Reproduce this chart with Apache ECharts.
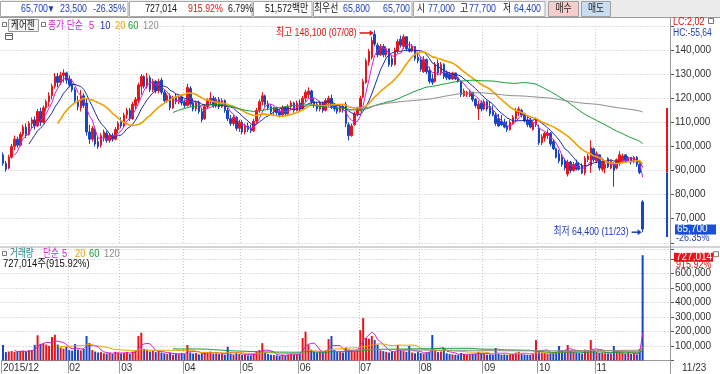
<!DOCTYPE html>
<html><head><meta charset="utf-8">
<script src="https://cdn.jsdelivr.net/npm/echarts@6/dist/echarts.min.js"></script>
<style>html,body{margin:0;padding:0;background:#fff;overflow:hidden}#c{width:720px;height:374px}</style>
</head><body><div id="c"></div><script>
// ---------------- data ----------------
const dates = [
'2015/12/28','2015/12/29','2015/12/30',
'2016/01/04','2016/01/05','2016/01/06','2016/01/07','2016/01/08','2016/01/11','2016/01/12','2016/01/13','2016/01/14','2016/01/15','2016/01/18','2016/01/19','2016/01/20','2016/01/21','2016/01/22','2016/01/25','2016/01/26','2016/01/27','2016/01/28','2016/01/29',
'2016/02/01','2016/02/02','2016/02/03','2016/02/04','2016/02/05','2016/02/11','2016/02/12','2016/02/15','2016/02/16','2016/02/17','2016/02/18','2016/02/19','2016/02/22','2016/02/23','2016/02/24','2016/02/25','2016/02/26','2016/02/29',
'2016/03/02','2016/03/03','2016/03/04','2016/03/07','2016/03/08','2016/03/09','2016/03/10','2016/03/11','2016/03/14','2016/03/15','2016/03/16','2016/03/17','2016/03/18','2016/03/21','2016/03/22','2016/03/23','2016/03/24','2016/03/25','2016/03/28','2016/03/29','2016/03/30','2016/03/31',
'2016/04/01','2016/04/04','2016/04/05','2016/04/06','2016/04/07','2016/04/08','2016/04/11','2016/04/12','2016/04/14','2016/04/15','2016/04/18','2016/04/19','2016/04/20','2016/04/21','2016/04/22','2016/04/25','2016/04/26','2016/04/27','2016/04/28','2016/04/29',
'2016/05/02','2016/05/03','2016/05/04','2016/05/09','2016/05/10','2016/05/11','2016/05/12','2016/05/13','2016/05/16','2016/05/17','2016/05/18','2016/05/19','2016/05/20','2016/05/23','2016/05/24','2016/05/25','2016/05/26','2016/05/27','2016/05/30','2016/05/31',
'2016/06/01','2016/06/02','2016/06/03','2016/06/07','2016/06/08','2016/06/09','2016/06/10','2016/06/13','2016/06/14','2016/06/15','2016/06/16','2016/06/17','2016/06/20','2016/06/21','2016/06/22','2016/06/23','2016/06/24','2016/06/27','2016/06/28','2016/06/29','2016/06/30',
'2016/07/01','2016/07/04','2016/07/05','2016/07/06','2016/07/07','2016/07/08','2016/07/11','2016/07/12','2016/07/13','2016/07/14','2016/07/15','2016/07/18','2016/07/19','2016/07/20','2016/07/21','2016/07/22','2016/07/25','2016/07/26','2016/07/27','2016/07/28','2016/07/29',
'2016/08/01','2016/08/02','2016/08/03','2016/08/04','2016/08/05','2016/08/08','2016/08/09','2016/08/10','2016/08/11','2016/08/12','2016/08/16','2016/08/17','2016/08/18','2016/08/19','2016/08/22','2016/08/23','2016/08/24','2016/08/25','2016/08/26','2016/08/29','2016/08/30','2016/08/31',
'2016/09/01','2016/09/02','2016/09/05','2016/09/06','2016/09/07','2016/09/08','2016/09/09','2016/09/12','2016/09/13','2016/09/19','2016/09/20','2016/09/21','2016/09/22','2016/09/23','2016/09/26','2016/09/27','2016/09/28','2016/09/29','2016/09/30',
'2016/10/04','2016/10/05','2016/10/06','2016/10/07','2016/10/10','2016/10/11','2016/10/12','2016/10/13','2016/10/14','2016/10/17','2016/10/18','2016/10/19','2016/10/20','2016/10/21','2016/10/24','2016/10/25','2016/10/26','2016/10/27','2016/10/28','2016/10/31',
'2016/11/01','2016/11/02','2016/11/03','2016/11/04','2016/11/07','2016/11/08','2016/11/09','2016/11/10','2016/11/11','2016/11/14','2016/11/15','2016/11/16','2016/11/17','2016/11/18','2016/11/21','2016/11/22','2016/11/23'
];
// [open, high, low, close]
const ohlc = [
[96500,97500,92000,93000],[93000,94000,89500,90500],[91000,96500,90500,95500],
// Jan
[95500,101000,95000,100000],[100000,104500,98500,103000],[103000,104000,99500,100500],[100500,106000,100000,105000],[105000,109000,104000,108000],
[108000,109500,103500,105000],[105000,110500,104500,109500],[109500,112000,107500,111000],[111000,112500,107000,108500],[108500,115500,108000,114500],
[114500,116000,108500,110000],[110000,117000,109500,116000],[116000,119500,114500,118500],[118500,122500,116500,121000],[121000,126000,119500,125000],
[125000,130500,124000,129000],[129000,130500,124500,126500],[126500,131000,125500,129500],[129500,132000,126500,130500],[130500,131000,126000,127500],
// Feb
[128000,129500,124500,125500],[126000,128000,122500,123500],[123500,124500,118000,119000],[119000,121000,115000,116500],[116000,123500,114500,121000],
[121000,122000,116000,117000],[118000,120000,104500,106000],[106000,109000,101000,103000],[103000,108500,102000,107500],[107000,108000,100000,101000],
[102000,104000,99000,100000],[100500,105500,99500,104500],[103500,107000,102000,106000],[105500,106500,101500,102500],[102500,105500,101500,104500],
[104500,105500,102000,103000],[103000,108000,102500,107000],[107000,110500,105500,109500],
// Mar
[110000,112000,107500,108500],[108500,114000,108000,113000],[113000,116000,111500,115000],[115000,116000,110500,111500],[111500,118500,111000,117500],
[117000,120500,115500,119500],[119000,126500,118000,125500],[125000,130000,121500,129000],[129000,129500,124000,125000],[125000,130500,124000,128500],
[128500,129500,122500,123500],[123500,128000,122500,127000],[127000,127500,122000,123000],[123000,128000,122000,127000],[127500,128500,121500,122500],
[122500,123500,118000,119000],[119000,122000,118000,121000],[121000,122000,115000,116000],[116000,121000,115500,120000],[120500,122000,117500,118500],
[118500,121500,117500,120500],[120500,121500,117000,118000],
// Apr
[118500,119500,116000,117000],[117000,126000,116500,124500],[124000,125000,116500,117500],[118000,120000,114500,115500],[115500,119000,114500,118000],
[118000,119000,113500,114500],[114500,116000,110000,111000],[111500,117500,111000,116500],[116500,120000,115500,119000],[119000,122500,117500,120000],
[120000,121000,116000,117000],[117000,120500,116000,119500],[119500,120500,115500,116500],[116500,120000,116000,119000],[119000,119500,114000,115000],
[115000,116000,110500,111500],[111500,113000,108500,109500],[109500,113000,108500,112000],[112000,112500,106500,107500],[107500,111000,106000,110000],
// May
[110000,111000,105000,106000],[106000,109500,105000,108500],[108500,110000,106000,107000],[107500,109000,105500,106500],[106500,111500,106000,110500],
[110500,116000,109500,115000],[115000,119500,114000,118500],[118500,122500,117000,121000],[121000,121500,116500,117500],[117500,119000,115000,116000],
[116500,117500,113500,114500],[114500,116500,113000,116000],[116000,116500,113000,114000],[114500,115500,112000,113000],[113000,117000,112500,116000],
[116000,116500,112500,113500],[113500,117500,113000,116500],[116500,119000,115000,118000],[118000,118500,114000,115000],[115000,119000,114500,118000],
// Jun
[118000,119500,114500,115500],[115500,121000,115000,120000],[120000,123500,118500,122500],[121500,124500,120000,123000],[123000,123500,117500,118500],
[118500,120000,116000,117000],[117500,118500,114500,115500],[115500,119000,114500,118000],[118000,118500,114000,115000],[115000,120000,114500,119000],
[118000,121000,116500,120000],[120000,121500,115500,116500],[117000,118000,114500,115500],[116000,117000,113500,114500],[114500,117500,114000,116500],
[116500,117500,114000,115000],[117500,118500,108000,109500],[109000,110000,102500,104500],[104500,109500,104000,108500],[109000,114500,108500,113500],
[113500,116500,112500,116000],
// Jul
[115000,121000,114500,120000],[120500,128000,120000,127000],[126500,136500,126000,135500],[135000,140500,133500,139500],[137000,145500,136000,144000],
[146500,148100,141500,142500],[142000,143000,137000,138000],[138000,142500,137500,141500],[141500,142500,137000,138000],[138000,141500,137000,140500],
[140500,140500,133000,134000],[136500,138000,133000,134000],[134000,141000,133500,140000],[139500,144500,138500,143500],[144500,146000,141000,142000],
[141500,146500,140500,145500],[145500,145500,139500,140500],[140500,143500,139000,139500],[139500,142500,139000,141500],[141500,141500,135500,136500],
[137000,138500,134500,135500],
// Aug
[136000,137000,131000,132000],[131000,137500,130500,136000],[136000,136500,130000,131000],[131500,133000,126000,127000],[128000,130000,125500,126500],
[127000,135000,126500,134000],[134500,136000,129500,130500],[130500,135000,129500,134000],[134000,134500,128000,129000],[130500,131500,127500,128500],
[130000,131000,127500,128000],[128000,131000,127500,130500],[130500,130500,127500,128000],[128500,129000,126500,127000],[127000,127000,120500,121500],
[121000,124000,120500,123000],[121500,123000,120500,122500],[121000,123500,120500,122500],[122500,122500,118500,119500],[119500,120000,116000,117000],
[115500,119000,111000,117500],[118000,119000,114500,115500],
// Sep
[115500,119500,115000,118500],[118500,119000,114500,115500],[116500,118500,112500,113500],[114500,117000,112500,113000],[113000,114000,108500,109500],
[111500,113500,108000,108500],[110500,113000,108500,109000],[110000,111500,107500,108000],[108500,110500,106000,107000],[107000,111000,106500,110000],
[109500,113000,109000,112000],[111500,116000,110500,114500],[114000,116500,112500,115500],[115000,115500,112000,113000],[113500,114000,110000,110500],
[111000,112500,108000,109000],[111000,112000,107500,108000],[107000,110500,106500,109500],[109000,112000,108000,111000],
// Oct
[107500,109000,100500,101500],[101500,105000,100500,104000],[103500,106000,102000,105500],[104500,107000,103000,105500],[105500,106000,100000,101000],
[102000,103000,98500,99000],[99000,99500,95000,95500],[97000,98500,93000,94000],[95500,96500,91500,92500],[94000,95000,90000,91000],
[88500,94500,87500,93500],[93500,94000,89000,90000],[90000,93500,89500,92500],[93000,94500,90000,90500],[92000,93500,90000,90500],
[92000,93000,88500,89000],[89000,96000,88000,95000],[94500,97000,93500,96000],[92000,102500,89000,99500],[99000,99500,93500,94500],
// Nov
[94000,98000,93000,97000],[96500,96500,90000,91000],[90500,94500,89500,93500],[91000,93500,88800,92500],[95000,95500,91000,91500],
[91000,94500,90500,94000],[93000,93500,83300,90000],[91000,95000,90500,94500],[93000,98000,92000,96500],[94000,97000,93000,96000],
[96500,96500,93500,94000],[94000,96000,93500,95500],[95500,95500,92500,93500],[93500,96000,93000,95500],[95500,96000,91500,92500],
[92500,93000,88500,89200],[77000,77700,64400,65700]
];
const volumes = [
107000,58000,62000,
65000,60000,62000,66000,68000,60000,70000,72000,108000,174000,115000,118000,110000,102000,162000,178000,110000,90000,82000,95000,
72000,68000,114000,76000,70000,80000,169000,120000,72000,62000,55000,58000,50000,48000,52000,45000,60000,55000,
48000,52000,58000,45000,62000,70000,169000,192000,80000,75000,62000,68000,58000,65000,55000,50000,45000,52000,40000,48000,44000,50000,
46000,107000,55000,48000,52000,42000,50000,60000,58000,62000,48000,50000,44000,46000,40000,95000,48000,42000,50000,45000,
38000,42000,35000,36000,48000,62000,72000,120000,55000,45000,40000,38000,35000,32000,40000,34000,42000,48000,38000,45000,
50000,155000,199000,110000,75000,62000,55000,60000,58000,70000,148000,169000,72000,60000,58000,55000,90000,75000,68000,62000,70000,
210000,293000,155000,150000,169000,141000,110000,70000,65000,60000,55000,62000,58000,107000,70000,65000,60000,100000,55000,50000,58000,
52000,48000,55000,60000,176000,70000,58000,62000,84000,50000,45000,42000,40000,38000,52000,45000,40000,42000,44000,48000,60000,50000,
45000,40000,42000,38000,86000,45000,40000,42000,38000,40000,45000,55000,60000,48000,42000,40000,38000,45000,141000,
65000,55000,52000,48000,50000,55000,60000,100000,70000,62000,107000,68000,60000,55000,52000,48000,75000,60000,141000,65000,
58000,52000,55000,50000,48000,45000,100000,62000,58000,55000,50000,52000,45000,48000,42000,79375,727014
];
const priceMaPeriods = [5, 10, 20, 60, 120];
const volMaPeriods = [5, 20, 60, 120];
const stockName = '케어젠';
const bestQuotes = ['65,800', '65,700'];
const turnover = '51,572백만';
const turnRate = '6.79%';
const lcText = 'LC:2,02';
const hcText = 'HC:-55,64';

// ---------------- helpers ----------------
const F = '"Liberation Sans","Noto Sans CJK KR",sans-serif';
const fmt = v => String(Math.round(v)).replace(/\B(?=(\d{3})+(?!\d))/g, ',');
const UP = '#e8141a', DN = '#1646c8';
const MA_COL = {5:'#d21ed2', 10:'#1c2ca8', 20:'#f0a000', 60:'#179a35', 120:'#8c8c8c'};
const N = dates.length;
const PAD = 9;
const cats = dates.concat(Array(PAD).fill(''));
const closes = ohlc.map(r => r[3]);
const highs = ohlc.map(r => r[1]);
const lows = ohlc.map(r => r[2]);
function ma(arr, n) {
  return arr.map((v, i) => {
    if (i < n - 1) return null;
    let s = 0; for (let k = i - n + 1; k <= i; k++) s += arr[k];
    return Math.round(s / n);
  });
}
const monthStarts = new Set();
let lastShown = -99;
dates.forEach((d, i) => {
  if (i === 0 || d.slice(0, 7) !== dates[i - 1].slice(0, 7)) {
    if (i - lastShown >= 10) { monthStarts.add(i); lastShown = i; }
  }
});
const labelFmt = (v, i) => (i === 0 ? v.slice(0, 7) : v.slice(5, 7));
const isMonth = i => monthStarts.has(i);
const isMonthLine = i => monthStarts.has(i) && i > 0;
const gridLine = {color:'#c4c4c4', type:[1, 2], width:1};

const chart = echarts.init(document.getElementById('c'), null, {renderer:'canvas'});
const series = [{
  type:'candlestick', xAxisIndex:0, yAxisIndex:0, barWidth:2,
  data: ohlc.map(r => [r[0], r[3], r[2], r[1]]),
  itemStyle:{color:UP, color0:DN, borderColor:UP, borderColor0:DN, borderWidth:1},
  z:2
}];
priceMaPeriods.forEach(p => series.push({
  type:'line', xAxisIndex:0, yAxisIndex:0, data: ma(closes, p), showSymbol:false, symbol:'none',
  lineStyle:{color:MA_COL[p], width: p === 20 ? 1.6 : 1}, z:3, silent:true
}));
series.push({
  type:'bar', xAxisIndex:1, yAxisIndex:1, barWidth:2,
  data: volumes.map((v, i) => ({value:v, itemStyle:{color: ohlc[i][3] >= ohlc[i][0] ? UP : DN}})),
  z:2
});
volMaPeriods.forEach(p => series.push({
  type:'line', xAxisIndex:1, yAxisIndex:1, data: ma(volumes, p), showSymbol:false, symbol:'none',
  lineStyle:{color:MA_COL[p], width:1}, z:3, silent:true
}));

const option = {
  animation:false,
  backgroundColor:'#ffffff',
  grid:[
    {left:1.56, right:50, top:25.9, height:216.9},
    {left:1.56, right:50, top:249, height:111.5}
  ],
  xAxis:[
    {type:'category', gridIndex:0, data:cats, boundaryGap:true,
     axisLine:{show:false}, axisTick:{show:false}, axisLabel:{show:false},
     splitLine:{show:true, interval:isMonthLine, lineStyle:gridLine}},
    {type:'category', gridIndex:1, data:cats, boundaryGap:true,
     axisLine:{show:true, lineStyle:{color:'#9a9a9a'}},
     axisTick:{show:true, interval:isMonth, length:13, lineStyle:{color:'#9a9a9a'}},
     axisLabel:{show:true, interval:isMonth, formatter:labelFmt, align:'left', margin:3,
                fontSize:10, color:'#333', fontFamily:F},
     splitLine:{show:true, interval:isMonthLine, lineStyle:gridLine}}
  ],
  yAxis:[
    {type:'value', gridIndex:0, position:'right', min:60000, max:150000, interval:10000,
     axisLine:{show:false}, axisTick:{show:true, length:4, lineStyle:{color:'#555'}},
     axisLabel:{margin:5, fontSize:10, color:'#333', fontFamily:F,
                formatter: v => (v < 70000 || v > 140000) ? '' : fmt(v)},
     splitLine:{show:true, lineStyle:gridLine}},
    {type:'value', gridIndex:1, position:'right', min:0, max:770000, interval:100000,
     axisLine:{show:false}, axisTick:{show:true, length:4, lineStyle:{color:'#555'}},
     axisLabel:{margin:5, fontSize:10, color:'#333', fontFamily:F,
                formatter: v => (v < 100000 || v > 600000) ? '' : fmt(v)},
     splitLine:{show:true, lineStyle:gridLine}}
  ],
  series
};
chart.setOption(option);

// ---------------- overlay texts / annotations ----------------
function T(x, y, text, color, size, align, sx) {
  return {type:'text', x, y, z:100, silent:true, scaleX: sx || 1,
    style:{text, fill:color, font:(size || 11) + 'px ' + F, align:align || 'left', verticalAlign:'middle'}};
}
function R(x, y, w, h, fill, stroke) {
  return {type:'rect', z:99, silent:true, shape:{x, y, width:w, height:h},
    style:{fill:fill || 'none', stroke:stroke || 'none', lineWidth:1}};
}
function L(x1, y1, x2, y2, color, w) {
  return {type:'line', z:100, silent:true, shape:{x1, y1, x2, y2}, style:{stroke:color, lineWidth:w || 1}};
}
function P(points, color) {
  return {type:'polygon', z:100, silent:true, shape:{points}, style:{fill:color}};
}
const g = [];
const last = closes[N - 1], prev = closes[N - 2];
const diff = last - prev;
const pct = (diff / prev * 100).toFixed(2) + '%';
const volPct = (volumes[N - 1] / volumes[N - 2] * 100).toFixed(2) + '%';
const BLUE = '#1c3cc0', RED = '#e01010';
const S = 0.8; // narrow scale for top-bar text

// top info bar
g.push(R(0, 0, 720, 17.5, '#ececec', null));
g.push(L(0, 17.5, 720, 17.5, '#9a9a9a'));
[[0.5,128],[129.5,252],[253.5,312],[313.5,412],[413.5,545]].forEach(c => g.push(R(c[0], 1.5, c[1] - c[0], 15, '#ffffff', '#a8a8a8')));
g.push(T(21, 9, fmt(last), BLUE, 11, 'left', S));
g.push(T(47, 9, '▼', BLUE, 10, 'left', S));
g.push(T(60, 9, fmt(Math.abs(diff)), BLUE, 11, 'left', S));
g.push(T(93, 9, pct, BLUE, 11, 'left', S));
g.push(T(177, 9, fmt(volumes[N - 1]), '#111', 11, 'right', S));
g.push(T(188, 9, volPct, RED, 11, 'left', S));
g.push(T(228, 9, turnRate, '#111', 11, 'left', S));
g.push(T(265, 9, turnover, '#111', 11, 'left', S));
g.push(T(314, 9, '최우선', '#111', 11, 'left', S));
g.push(T(343, 9, bestQuotes[0], BLUE, 11, 'left', S));
g.push(T(383, 9, bestQuotes[1], BLUE, 11, 'left', S));
g.push(T(417, 9, '시', '#111', 11, 'left', S));
g.push(T(428, 9, fmt(ohlc[N - 1][0]), BLUE, 11, 'left', S));
g.push(T(460, 9, '고', '#111', 11, 'left', S));
g.push(T(469, 9, fmt(ohlc[N - 1][1]), BLUE, 11, 'left', S));
g.push(T(503, 9, '저', '#111', 11, 'left', S));
g.push(T(514, 9, fmt(ohlc[N - 1][2]), BLUE, 11, 'left', S));
g.push(R(548.5, 1.5, 30, 15, '#f6cccc', '#a0a0a0'));
g.push(T(563.5, 9, '매수', '#222', 11, 'center', S));
g.push(R(581.5, 1.5, 29, 15, '#c8dcf2', '#a0a0a0'));
g.push(T(596, 9, '매도', '#222', 11, 'center', S));

// price panel legend
g.push(R(2.5, 22.5, 4, 4, '#fff', '#777'));
g.push(R(8.5, 19.5, 30, 12, '#f2f2f2', '#9a9a9a'));
g.push(T(11, 25.5, stockName, '#111', 11, 'left', 0.78));
g.push(R(41.5, 22.5, 4, 4, '#fff', '#777'));
g.push(T(48, 25.5, '종가 단순', MA_COL[5], 11, 'left', 0.8));
g.push(T(89, 25.5, '5', MA_COL[5], 11, 'left', 0.85));
g.push(T(100, 25.5, '10', MA_COL[10], 11, 'left', 0.85));
g.push(T(115, 25.5, '20', MA_COL[20], 11, 'left', 0.85));
g.push(T(128, 25.5, '60', MA_COL[60], 11, 'left', 0.85));
g.push(T(143, 25.5, '120', MA_COL[120], 11, 'left', 0.85));
g.push(R(5.5, 33.5, 7, 6, '#fff', '#666'));
g.push(L(5.5, 35.5, 12.5, 35.5, '#666'));

// volume legend
g.push(R(2.5, 251.5, 4, 4, '#fff', '#777'));
g.push(T(10, 254, '거래량', '#1a8a8a', 11, 'left', 0.78));
g.push(T(43, 254, '단순', MA_COL[5], 11, 'left', 0.78));
g.push(T(62, 254, '5', MA_COL[5], 11, 'left', 0.85));
g.push(T(75, 254, '20', MA_COL[20], 11, 'left', 0.85));
g.push(T(89, 254, '60', MA_COL[60], 11, 'left', 0.85));
g.push(T(104, 254, '120', MA_COL[120], 11, 'left', 0.85));
g.push(T(3, 264, fmt(volumes[N - 1]) + '주(' + volPct + ')', '#111', 11, 'left', 0.86));

// panel separator and right axis divider
g.push(R(0, 246, 720, 2, '#d4d4d4', null));
g.push(L(670.5, 17.5, 670.5, 374, '#9a9a9a'));

// right-side labels
g.push(T(673, 22.5, lcText, RED, 10, 'left', 0.9));
g.push(R(708.5, 18.5, 5, 5, '#fff', '#777'));
g.push(T(673, 33, hcText, BLUE, 10, 'left', 0.85));
g.push(T(682, 368, dates[N - 1].slice(5), '#333', 10));

// data-driven overlays
let hiIdx = 0, loIdx = 0;
highs.forEach((v, i) => { if (v > highs[hiIdx]) hiIdx = i; });
lows.forEach((v, i) => { if (v < lows[loIdx]) loIdx = i; });
const hp = chart.convertToPixel({gridIndex:0}, [hiIdx, highs[hiIdx]]);
const hy = hp[1] + 2.5;
g.push(T(hp[0] - 18, hy, '최고 ' + fmt(highs[hiIdx]) + ' (' + dates[hiIdx].slice(5) + ')', RED, 11, 'right', 0.8));
g.push(L(hp[0] - 15, hy, hp[0] - 4, hy, RED, 1.5));
g.push(P([[hp[0] - 1, hy], [hp[0] - 5, hy - 3], [hp[0] - 5, hy + 3]], RED));
const lp = chart.convertToPixel({gridIndex:0}, [loIdx, lows[loIdx]]);
g.push(T(lp[0] - 14, lp[1], '최저 ' + fmt(lows[loIdx]) + ' (' + dates[loIdx].slice(5) + ')', BLUE, 11, 'right', 0.8));
g.push(L(lp[0] - 11, lp[1], lp[0] - 4, lp[1], BLUE, 1.5));
g.push(P([[lp[0] - 1, lp[1]], [lp[0] - 5, lp[1] - 3], [lp[0] - 5, lp[1] + 3]], BLUE));

// daily limit band (+/-30% of previous close)
const yUp = chart.convertToPixel({gridIndex:0}, [N - 1, prev * 1.3])[1];
const yPv = chart.convertToPixel({gridIndex:0}, [N - 1, prev])[1];
const yDn = chart.convertToPixel({gridIndex:0}, [N - 1, prev * 0.7])[1];
g.push(R(666, yUp, 2, yPv - yUp, UP, null));
g.push(R(666, yPv, 2, yDn - yPv, DN, null));

// current price box
const cy = chart.convertToPixel({gridIndex:0}, [N - 1, last])[1];
g.push(R(675, cy - 4.5, 41, 10, '#1c50d6', null));
g.push(T(677, cy + 0.5, fmt(last), '#fff', 10));
g.push(T(676, cy + 9.5, pct, BLUE, 10, 'left', 0.9));

// current volume box
const vy = chart.convertToPixel({gridIndex:1}, [N - 1, volumes[N - 1]])[1];
g.push(R(674, vy - 2.5, 39, 9, UP, null));
g.push(T(676, vy + 2, fmt(volumes[N - 1]), '#fff', 10));
g.push(R(713.5, vy - 3.5, 5, 5, '#fff', '#777'));
g.push(T(676, vy + 10.5, volPct, RED, 10, 'left', 0.9));

chart.setOption({graphic:{elements:g}});
</script></body></html>
